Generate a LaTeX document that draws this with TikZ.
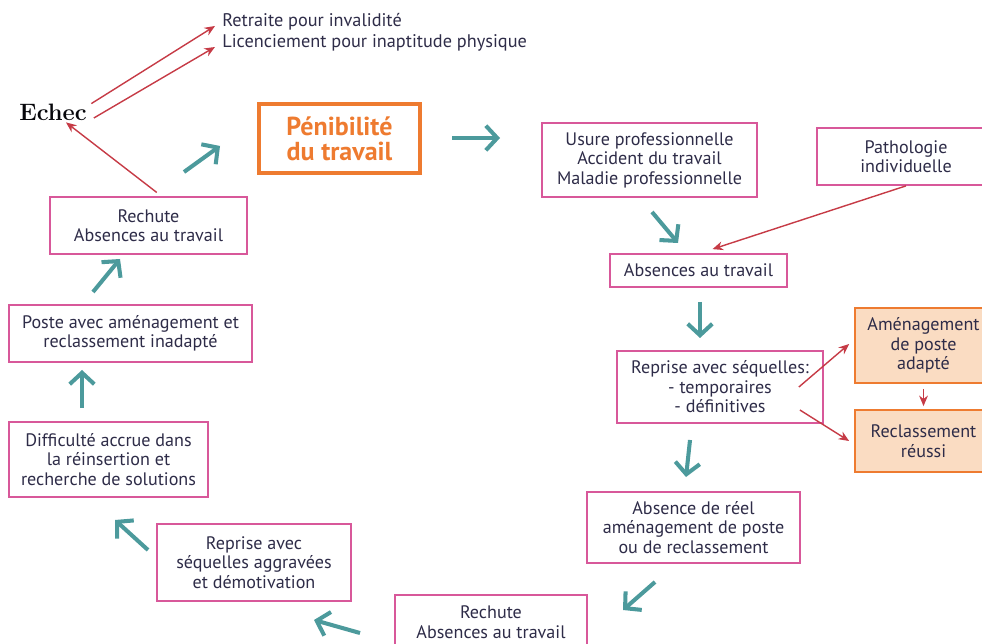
\documentclass[tikz,border=0pt]{standalone}
\usepackage{fontspec}
\setsansfont{PT Sans}
\usepackage{tikz}
\usetikzlibrary{arrows.meta}

\definecolor{boxpink}{HTML}{D8589A}
\definecolor{flowteal}{HTML}{4C9A9C}
\definecolor{failred}{HTML}{C63B46}
\definecolor{penorange}{HTML}{EE7B30}
\definecolor{adaptfill}{HTML}{FADCC2}
\definecolor{inkblue}{HTML}{2E2C48}

\tikzset{
  etape/.style={draw=boxpink, line width=1pt, align=center, inner sep=0pt,
    font=\sffamily\fontsize{10.3}{11.1}\selectfont, text=inkblue},
  issue/.style={etape, draw=penorange, fill=adaptfill},
  sortie/.style={anchor=west, inner sep=0pt, font=\sffamily\fontsize{10.4}{11}\selectfont, text=inkblue},
  flow/.style={draw=flowteal, line width=2.3pt, -{Straight Barb[length=6.5pt,width=14pt]}},
  fail/.style={draw=failred, line width=0.8pt, -{Stealth[length=6pt,width=5pt]}},
}

\begin{document}
\begin{tikzpicture}[x=0.02cm, y=-0.02cm]
    \useasboundingbox (0,0) rectangle (982,644);
    \clip (0,0) rectangle (982,644);

    % boxes of the cycle
    \node[draw=penorange, line width=2.6pt, inner sep=0pt, align=center, minimum width=3.22cm, minimum height=1.38cm,
      text=penorange, font=\sffamily\bfseries\fontsize{14.8}{14.3}\selectfont] (pen) at (339.5,138.5) {Pénibilité\\du travail};
    \node[etape, minimum width=4.30cm, minimum height=1.48cm] (usure) at (649.5,160) {Usure professionnelle\\Accident du travail\\Maladie professionnelle};
    \node[etape, minimum width=3.56cm, minimum height=1.14cm] (patho) at (906,156.5) {Pathologie\\individuelle};
    \node[etape, minimum width=3.54cm, minimum height=0.66cm] (abs) at (698.5,270.5) {Absences au travail};
    \node[etape, minimum width=4.12cm, minimum height=1.44cm] (reprise) at (720,387) {Reprise avec séquelles:\\- temporaires\\- définitives};
    \node[issue, minimum width=2.74cm, minimum height=1.50cm] (amen) at (923.5,345.5) {Aménagement\\de poste\\adapté};
    \node[issue, minimum width=2.74cm, minimum height=1.24cm] (reclass) at (923.5,441) {Reclassement\\réussi};
    \node[etape, minimum width=4.26cm, minimum height=1.42cm] (absreel) at (693.5,527.5) {Absence de réel\\aménagement de poste\\ou de reclassement};
    \node[etape, minimum width=3.84cm, minimum height=1.08cm] (rechuteb) at (491,622) {Rechute\\Absences au travail};
    \node[etape, minimum width=3.88cm, minimum height=1.54cm] (aggrav) at (254,562.5) {Reprise avec\\séquelles aggravées\\et démotivation};
    \node[etape, minimum width=3.98cm, minimum height=1.50cm] (diff) at (108.5,459.5) {Difficulté accrue dans\\la réinsertion et\\recherche de solutions};
    \node[etape, minimum width=4.86cm, minimum height=1.14cm] (poste) at (130.5,333.5) {Poste avec aménagement et\\reclassement inadapté};
    \node[etape, minimum width=3.94cm, minimum height=1.14cm] (rechutea) at (148.5,225.5) {Rechute\\Absences au travail};

    % echec and its exits
    \node[inner sep=1pt, text=black!85!inkblue, font=\rmfamily\bfseries\fontsize{13.5}{15}\selectfont] (echec) at (53,112) {Echec};
    \node[sortie] (retraite) at (222,22) {Retraite pour invalidité};
    \node[sortie] (licen) at (222,43) {Licenciement pour inaptitude physique};

    % ends of the teal arrows
    \coordinate (f1a) at (184,172);  \coordinate (f1b) at (220,146);
    \coordinate (f2a) at (452,138);  \coordinate (f2b) at (500,138);
    \coordinate (f3a) at (652,212);  \coordinate (f3b) at (678,243);
    \coordinate (f4a) at (700,302);  \coordinate (f4b) at (700,338);
    \coordinate (f5a) at (690,440);  \coordinate (f5b) at (686,477);
    \coordinate (f6a) at (655,582);  \coordinate (f6b) at (623,610);
    \coordinate (f7a) at (360,633);  \coordinate (f7b) at (314,620);
    \coordinate (f8a) at (148,550);  \coordinate (f8b) at (115,520);
    \coordinate (f9a) at (82,408);   \coordinate (f9b) at (82,370);
    \coordinate (f10a) at (93,292);  \coordinate (f10b) at (120,259);

    \draw[flow] (f1a) -- (f1b);
    \draw[flow] (f2a) -- (f2b);
    \draw[flow] (f3a) -- (f3b);
    \draw[flow] (f4a) -- (f4b);
    \draw[flow] (f5a) -- (f5b);
    \draw[flow] (f6a) -- (f6b);
    \draw[flow] (f7a) -- (f7b);
    \draw[flow] (f8a) -- (f8b);
    \draw[flow] (f9a) -- (f9b);
    \draw[flow] (f10a) -- (f10b);

    % red arrows
    \draw[fail] ([xshift=0.05cm,yshift=-0.04cm]echec.north east) -- ([xshift=-0.14cm,yshift=-0.08cm]retraite.west);
    \draw[fail] ([xshift=0.1cm,yshift=-0.12cm]echec.east) -- ([xshift=-0.14cm,yshift=-0.08cm]licen.west);
    \draw[fail, shorten <=0.12cm] ([xshift=0.26cm]rechutea.north) -- ([xshift=0.26cm]echec.south);
    \draw[fail] (patho.south) -- ([xshift=0.28cm,yshift=0.08cm]abs.north);
    \draw[fail] ([xshift=-0.5cm]reprise.east) -- ([xshift=-0.1cm,yshift=0.03cm]amen.west);
    \draw[fail] ([xshift=-0.48cm,yshift=-0.46cm]reprise.east) -- ([xshift=-0.1cm]reclass.west);
    \draw[fail, shorten <=0.1cm, shorten >=0.06cm] (amen.south) -- (reclass.north);
\end{tikzpicture}
\end{document}
